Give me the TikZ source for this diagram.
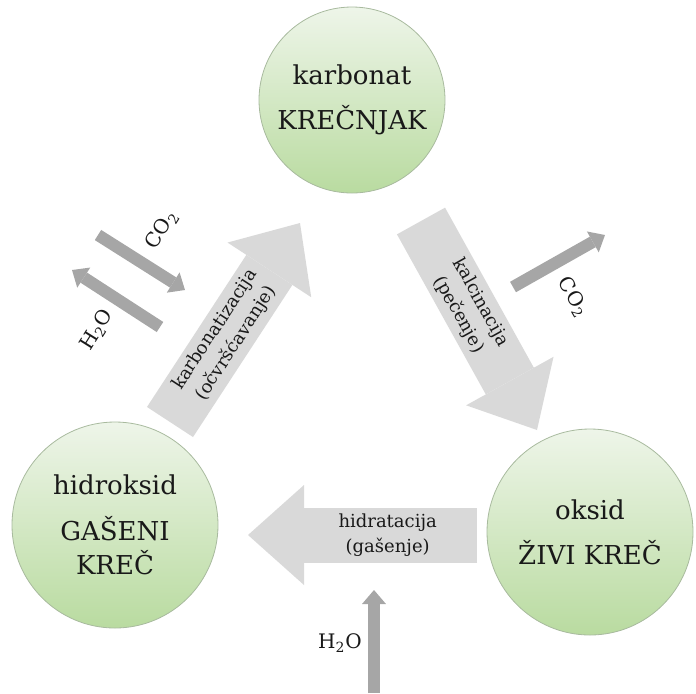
\documentclass[tikz,border=0pt]{standalone}
\usepackage{fontspec}
\setmainfont{DejaVu Serif}
\usetikzlibrary{arrows.meta}
\definecolor{circtop}{RGB}{238,245,233}
\definecolor{circbot}{RGB}{185,219,160}
\definecolor{circrim}{RGB}{168,186,158}
\definecolor{bigfill}{RGB}{217,217,217}
\definecolor{gasfill}{RGB}{166,166,166}
\definecolor{ink}{RGB}{25,25,25}

\begin{document}
\begin{tikzpicture}[x=0.5pt, y=-0.5pt, every node/.style={text=ink},
  phase/.style={circle,draw=circrim,top color=circtop,bottom color=circbot,inner sep=0pt,align=center,font=\fontsize{13}{17}\selectfont},
  bigarrow/.style={draw=bigfill,line width=27.5pt,-{Triangle[length=28pt,width=50pt,line width=0pt]}},
  gasarrow/.style={draw=gasfill,line width=6pt,-{Triangle[length=7pt,width=12pt,line width=0pt]}},
  procname/.style={align=center,font=\fontsize{9}{12.5}\selectfont},
  gas/.style={font=\fontsize{10}{12}\selectfont}]
\useasboundingbox (0,0) rectangle (696,693);
\node[phase,minimum size=93pt] (karbonat) at (352,100) {karbonat\\[5.5pt]KREČNJAK};
\node[phase,minimum size=103pt] (hidroksid) at (115,525) {hidroksid\\[6pt]GAŠENI\\KREČ};
\node[phase,minimum size=103pt] (oksid) at (590,532) {oksid\\[5.5pt]ŽIVI KREČ};
\coordinate (kt) at (170,422); \coordinate (kh) at (300,223);
\coordinate (ct) at (421,221); \coordinate (ch) at (537,430);
\coordinate (ht) at (477,535); \coordinate (hh) at (248,535);
\draw[bigarrow] (kt) -- (kh) node[procname,pos=0.43,sloped] (karbonatizacija) {karbonatizacija\\(očvršćavanje)};
\draw[bigarrow] (ct) -- (ch) node[procname,pos=0.42,sloped] (kalcinacija) {kalcinacija\\(pečenje)};
\draw[bigarrow] (ht) -- (hh) node[procname,pos=0.39,sloped] (hidratacija) {hidratacija\\(gašenje)};
\coordinate (la) at (98,235); \coordinate (lb) at (185,290);
\coordinate (lc) at (160,327); \coordinate (ld) at (72,270);
\coordinate (ra) at (513,287); \coordinate (rb) at (605,235);
\coordinate (ba) at (374,693); \coordinate (bb) at (374,590);
\draw[gasarrow] (la) -- (lb);
\draw[gasarrow] (lc) -- (ld);
\draw[gasarrow] (ra) -- (rb);
\draw[gasarrow] (ba) -- (bb);
\node[gas,rotate=58] (co2l) at (162,230) {CO\textsubscript{2}};
\node[gas,rotate=58] (h2ol) at (97,330) {H\textsubscript{2}O};
\node[gas,rotate=-60] (co2r) at (573,297) {CO\textsubscript{2}};
\node[gas] (h2ob) at (340,643) {H\textsubscript{2}O};
\end{tikzpicture}
\end{document}
